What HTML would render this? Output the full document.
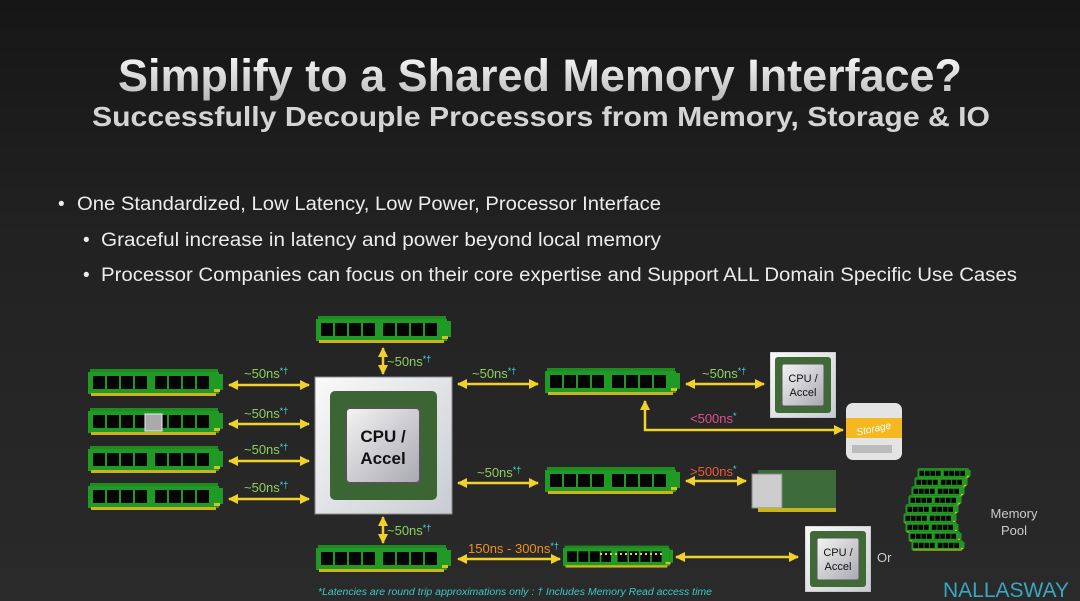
<!DOCTYPE html>
<html><head><meta charset="utf-8"><style>
html,body{margin:0;padding:0;background:#1e1e1e;}
svg{display:block;font-family:"Liberation Sans",sans-serif;}
</style></head><body>
<svg width="1080" height="601" viewBox="0 0 1080 601" xmlns="http://www.w3.org/2000/svg">
<defs>
<linearGradient id="bg" x1="0" y1="0" x2="0" y2="1"><stop offset="0" stop-color="#161616"/><stop offset="0.4" stop-color="#222"/><stop offset="1" stop-color="#2a2a2a"/></linearGradient>
<linearGradient id="tg" x1="0" y1="0" x2="0" y2="1"><stop offset="0" stop-color="#ffffff"/><stop offset="1" stop-color="#b8b8b8"/></linearGradient>
<linearGradient id="chip" x1="0" y1="0" x2="1" y2="1"><stop offset="0" stop-color="#f4f4f4"/><stop offset="1" stop-color="#a8a8b0"/></linearGradient>
<linearGradient id="pkg" x1="0" y1="0" x2="1" y2="1"><stop offset="0" stop-color="#fafafa"/><stop offset="1" stop-color="#c8ccd2"/></linearGradient>
<symbol id="dimm" viewBox="0 0 135 28">
<rect x="2" y="0" width="128" height="3" fill="#1f8a1f"/>
<rect x="0" y="3" width="131" height="22" fill="#1f9a24"/>
<rect x="131" y="5" width="4" height="16" fill="#1f9a24"/>
<g fill="#050505">
<rect x="5" y="7" width="12" height="13"/><rect x="19" y="7" width="12" height="13"/><rect x="33" y="7" width="12" height="13"/><rect x="47" y="7" width="12" height="13"/>
<rect x="67" y="7" width="12" height="13"/><rect x="81" y="7" width="12" height="13"/><rect x="95" y="7" width="12" height="13"/><rect x="109" y="7" width="12" height="13"/>
</g>
<rect x="3" y="24" width="125" height="3" fill="#c8b41c"/>
<rect x="126" y="20" width="6" height="3" fill="#d8c020"/>
</symbol>
<symbol id="cpu" viewBox="0 0 66 66">
<rect x="0" y="0" width="66" height="66" fill="url(#pkg)" stroke="#999" stroke-width="0.6"/>
<rect x="5" y="5" width="56" height="56" rx="3" fill="#3f6a36"/>
<rect x="12" y="12" width="42" height="42" rx="2" fill="url(#chip)" stroke="#555"/>
</symbol>
<marker id="ah" viewBox="0 0 10 10" refX="9" refY="5" markerWidth="4" markerHeight="4" orient="auto-start-reverse"><path d="M0,0 L10,5 L0,10 z" fill="#f2d22a"/></marker>
</defs>
<rect width="1080" height="601" fill="url(#bg)"/>
<text x="540" y="91" text-anchor="middle" font-size="45" font-weight="bold" fill="url(#tg)" textLength="844" lengthAdjust="spacingAndGlyphs">Simplify to a Shared Memory Interface?</text>
<text x="541" y="126" text-anchor="middle" font-size="28" font-weight="bold" fill="#d4d4d4" textLength="898" lengthAdjust="spacingAndGlyphs">Successfully Decouple Processors from Memory, Storage &amp; IO</text>
<g fill="#ececec" font-size="19">
<text x="58" y="210">•</text><text x="77" y="210" textLength="584" lengthAdjust="spacingAndGlyphs">One Standardized, Low Latency, Low Power, Processor Interface</text>
<text x="83" y="246">•</text><text x="101" y="246" textLength="560" lengthAdjust="spacingAndGlyphs">Graceful increase in latency and power beyond local memory</text>
<text x="83" y="281">•</text><text x="101" y="281" textLength="916" lengthAdjust="spacingAndGlyphs">Processor Companies can focus on their core expertise and Support ALL Domain Specific Use Cases</text>
</g>
<!-- DIMMs -->
<use href="#dimm" x="88" y="369" width="135" height="28"/>
<use href="#dimm" x="88" y="408" width="135" height="28"/>
<use href="#dimm" x="88" y="446" width="135" height="28"/>
<use href="#dimm" x="88" y="483" width="135" height="28"/>
<rect x="145" y="414" width="17" height="17" fill="#aaa" stroke="#eee"/>
<use href="#dimm" x="316" y="316" width="135" height="28"/>
<use href="#dimm" x="316" y="545" width="135" height="28"/>
<use href="#dimm" x="545" y="368" width="135" height="28"/>
<use href="#dimm" x="545" y="467" width="135" height="28"/>
<use href="#dimm" x="563" y="543" width="110" height="28"/>
<line x1="600" y1="554" x2="665" y2="554" stroke="#f2d22a" stroke-width="2" stroke-dasharray="2 3"/>
<!-- main CPU -->
<rect x="315" y="377" width="137" height="137" fill="url(#pkg)" stroke="#888"/>
<rect x="330" y="391" width="107" height="109" rx="5" fill="#3b6634"/>
<rect x="346" y="408" width="74" height="75" rx="4" fill="url(#chip)" stroke="#555" stroke-width="2"/>
<text x="383" y="442" text-anchor="middle" font-size="17" font-weight="bold" fill="#111">CPU /</text>
<text x="383" y="464" text-anchor="middle" font-size="17" font-weight="bold" fill="#111">Accel</text>
<!-- small CPUs -->
<use href="#cpu" x="770" y="352" width="66" height="66"/>
<text x="803" y="382" text-anchor="middle" font-size="11" fill="#111">CPU /</text>
<text x="803" y="396" text-anchor="middle" font-size="11" fill="#111">Accel</text>
<use href="#cpu" x="805" y="526" width="66" height="66"/>
<text x="838" y="556" text-anchor="middle" font-size="11" fill="#111">CPU /</text>
<text x="838" y="570" text-anchor="middle" font-size="11" fill="#111">Accel</text>
<!-- storage -->
<rect x="846" y="403" width="56" height="57" rx="7" fill="#e4e4e4"/>
<rect x="846" y="418" width="56" height="20" fill="#f6b820"/>
<text x="874" y="432" text-anchor="middle" font-size="10" font-style="italic" fill="#fff" transform="rotate(-12 874 430)">Storage</text>
<rect x="852" y="445" width="40" height="8" fill="#bbb"/>
<!-- NIC -->
<rect x="758" y="470" width="78" height="40" fill="#3c6a38"/>
<rect x="752" y="474" width="30" height="34" fill="#ccc" stroke="#888"/>
<rect x="758" y="508" width="78" height="4" fill="#c8b41c"/>
<!-- Memory pool -->
<g>
<use href="#dimm" x="908" y="468" width="72" height="11"/>
<use href="#dimm" x="905" y="477" width="72" height="11"/>
<use href="#dimm" x="902" y="486" width="72" height="11"/>
<use href="#dimm" x="899" y="495" width="72" height="11"/>
<use href="#dimm" x="896" y="504" width="72" height="11"/>
<use href="#dimm" x="894" y="513" width="72" height="11"/>
<use href="#dimm" x="896" y="522" width="72" height="11"/>
<use href="#dimm" x="899" y="531" width="72" height="11"/>
<use href="#dimm" x="902" y="540" width="72" height="11"/>
</g>
<text x="1014" y="518" text-anchor="middle" font-size="13" fill="#ccc">Memory</text>
<text x="1014" y="535" text-anchor="middle" font-size="13" fill="#ccc">Pool</text>
<text x="877" y="562" font-size="13" fill="#ccc">Or</text>
<text x="1006" y="597" text-anchor="middle" font-size="21" fill="#3aa6c4" textLength="126" lengthAdjust="spacingAndGlyphs">NALLASWAY</text>
<!-- arrows -->
<g stroke="#f2d22a" stroke-width="2.5" fill="none" marker-start="url(#ah)" marker-end="url(#ah)">
<line x1="229" y1="385" x2="309" y2="385"/>
<line x1="229" y1="424" x2="309" y2="424"/>
<line x1="229" y1="461" x2="309" y2="461"/>
<line x1="229" y1="499" x2="309" y2="499"/>
<line x1="383" y1="348" x2="383" y2="374"/>
<line x1="383" y1="517" x2="383" y2="543"/>
<line x1="458" y1="384" x2="538" y2="384"/>
<line x1="458" y1="483" x2="538" y2="483"/>
<line x1="686" y1="384" x2="764" y2="384"/>
<line x1="686" y1="481" x2="746" y2="481"/>
<line x1="458" y1="559" x2="560" y2="559"/>
<line x1="676" y1="557" x2="798" y2="557"/>
<path d="M645,401 V430 H843"/>
</g>
<g font-size="13" fill="#8cd060">
<text x="244" y="378">~50ns<tspan fill="#44dddd" font-size="9" dy="-4">*†</tspan></text>
<text x="244" y="418">~50ns<tspan fill="#44dddd" font-size="9" dy="-4">*†</tspan></text>
<text x="244" y="454">~50ns<tspan fill="#44dddd" font-size="9" dy="-4">*†</tspan></text>
<text x="244" y="492">~50ns<tspan fill="#44dddd" font-size="9" dy="-4">*†</tspan></text>
<text x="387" y="366">~50ns<tspan fill="#44dddd" font-size="9" dy="-4">*†</tspan></text>
<text x="387" y="535">~50ns<tspan fill="#44dddd" font-size="9" dy="-4">*†</tspan></text>
<text x="472" y="378">~50ns<tspan fill="#44dddd" font-size="9" dy="-4">*†</tspan></text>
<text x="477" y="477">~50ns<tspan fill="#44dddd" font-size="9" dy="-4">*†</tspan></text>
<text x="702" y="378">~50ns<tspan fill="#44dddd" font-size="9" dy="-4">*†</tspan></text>
<text x="690" y="423" fill="#e05090">&lt;500ns<tspan fill="#44dddd" font-size="9" dy="-4">*</tspan></text>
<text x="690" y="476" fill="#f05a3a">&gt;500ns<tspan fill="#44dddd" font-size="9" dy="-4">*</tspan></text>
<text x="468" y="553" fill="#f0901c">150ns - 300ns<tspan fill="#44dddd" font-size="9" dy="-4">*†</tspan></text>
</g>
<text x="318" y="595" font-size="10" font-style="italic" fill="#3cc8c8" textLength="394" lengthAdjust="spacingAndGlyphs">*Latencies are round trip approximations only : † Includes Memory Read access time</text>
</svg>
</body></html>
